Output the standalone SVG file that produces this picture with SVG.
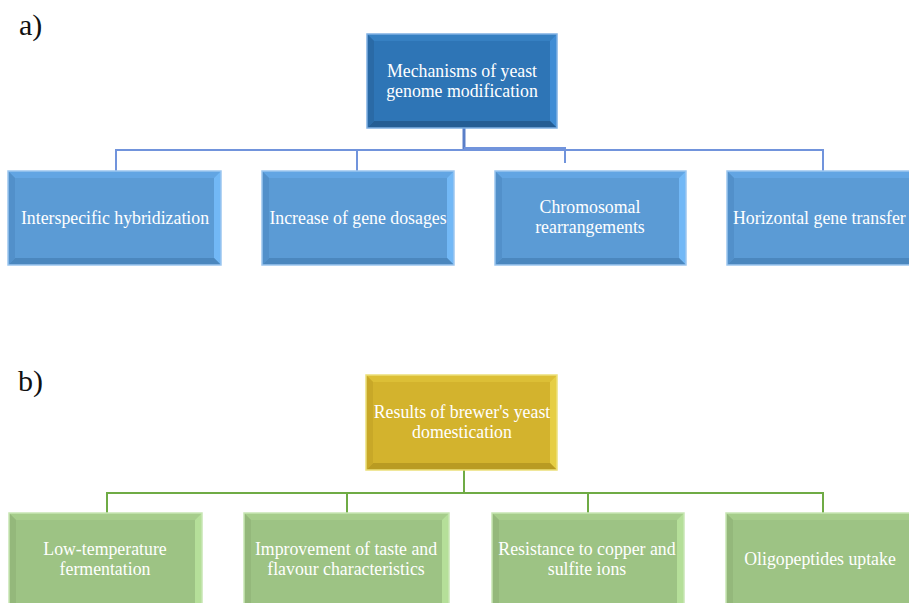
<svg xmlns="http://www.w3.org/2000/svg" width="909" height="603" viewBox="0 0 909 603">
<style>
text{font-family:"Liberation Serif","DejaVu Serif",serif;fill:#ffffff;font-size:17.8px;text-anchor:middle}
.lbl{fill:#111;font-size:30px;text-anchor:start}
.ca{stroke:#7194dc;stroke-width:2;fill:none}
.cad{stroke:#5a7fc8;stroke-width:3;fill:none}
.cb{stroke:#6fab45;stroke-width:2;fill:none}
.bd .f{fill:#2e75b6}.bd .t{fill:#3680c2}.bd .r{fill:#3f8cd4}.bd .l{fill:#2a6aa6}.bd .b{fill:#245d94}.bd .o{fill:none;stroke:#7fb0e3;stroke-width:1.5}
.bm .f{fill:#5b9bd5}.bm .t{fill:#62a5e3}.bm .r{fill:#72b8f6}.bm .l{fill:#5290ca}.bm .b{fill:#4b87be}.bm .o{fill:none;stroke:#9cc6ef;stroke-width:1.5}
.gd .f{fill:#d3b32d}.gd .t{fill:#dcbf36}.gd .r{fill:#e6ce44}.gd .l{fill:#c8a828}.gd .b{fill:#b99b22}.gd .o{fill:none;stroke:#ece07a;stroke-width:1.5}
.gr .f{fill:#9dc384}.gr .t{fill:#a6cd8b}.gr .r{fill:#b5df99}.gr .l{fill:#94b87b}.gr .b{fill:#8aae72}.gr .o{fill:none;stroke:#c8e6b4;stroke-width:1.5}
</style>
<rect width="909" height="603" fill="#ffffff"/>
<text class="lbl" x="19" y="35">a)</text>
<text class="lbl" x="18" y="391">b)</text>

<g id="connectors">
<path class="cad" d="M464 128 V150"/>
<path class="ca" d="M116 171 V150 H823 V171"/>
<path class="ca" d="M357 150 V171"/>
<path class="ca" d="M464 148 H565 V163"/>
<path class="cb" d="M464 470 V493"/>
<path class="cb" d="M107 513 V493 H823 V513"/>
<path class="cb" d="M347 493 V513"/>
<path class="cb" d="M588 493 V513"/>
</g>

<g id="a0" class="bd">
<rect class="f" x="367" y="34" width="190" height="94"/>
<polygon class="t" points="367,34 557,34 550,41 374,41"/>
<polygon class="r" points="557,34 557,128 550,121 550,41"/>
<polygon class="b" points="367,128 557,128 550,121 374,121"/>
<polygon class="l" points="367,34 374,41 374,121 367,128"/>
<rect class="o" x="367" y="34" width="190" height="94"/>
<text x="462" y="77">Mechanisms of yeast</text>
<text x="462" y="97">genome modification</text>
</g>

<g id="a1" class="bm">
<rect class="f" x="8" y="171" width="213" height="94"/>
<polygon class="t" points="8,171 221,171 214,178 15,178"/>
<polygon class="r" points="221,171 221,265 214,258 214,178"/>
<polygon class="b" points="8,265 221,265 214,258 15,258"/>
<polygon class="l" points="8,171 15,178 15,258 8,265"/>
<rect class="o" x="8" y="171" width="213" height="94"/>
<text x="115" y="224">Interspecific hybridization</text>
</g>

<g id="a2" class="bm">
<rect class="f" x="262" y="171" width="192" height="94"/>
<polygon class="t" points="262,171 454,171 447,178 269,178"/>
<polygon class="r" points="454,171 454,265 447,258 447,178"/>
<polygon class="b" points="262,265 454,265 447,258 269,258"/>
<polygon class="l" points="262,171 269,178 269,258 262,265"/>
<rect class="o" x="262" y="171" width="192" height="94"/>
<text x="358" y="224">Increase of gene dosages</text>
</g>

<g id="a3" class="bm">
<rect class="f" x="495" y="171" width="191" height="94"/>
<polygon class="t" points="495,171 686,171 679,178 502,178"/>
<polygon class="r" points="686,171 686,265 679,258 679,178"/>
<polygon class="b" points="495,265 686,265 679,258 502,258"/>
<polygon class="l" points="495,171 502,178 502,258 495,265"/>
<rect class="o" x="495" y="171" width="191" height="94"/>
<text x="590" y="213">Chromosomal</text>
<text x="590" y="233">rearrangements</text>
</g>

<g id="a4" class="bm">
<rect class="f" x="727" y="171" width="195" height="94"/>
<polygon class="t" points="727,171 922,171 915,178 734,178"/>
<polygon class="b" points="727,265 922,265 915,258 734,258"/>
<polygon class="l" points="727,171 734,178 734,258 727,265"/>
<rect class="o" x="727" y="171" width="195" height="94"/>
<text x="733" y="224" style="text-anchor:start">Horizontal gene transfer</text>
</g>

<g id="b0" class="gd">
<rect class="f" x="366" y="375" width="191" height="95"/>
<polygon class="t" points="366,375 557,375 550,382 373,382"/>
<polygon class="r" points="557,375 557,470 550,463 550,382"/>
<polygon class="b" points="366,470 557,470 550,463 373,463"/>
<polygon class="l" points="366,375 373,382 373,463 366,470"/>
<rect class="o" x="366" y="375" width="191" height="95"/>
<text x="462" y="418">Results of brewer's yeast</text>
<text x="462" y="438">domestication</text>
</g>

<g id="b1" class="gr">
<rect class="f" x="9" y="513" width="193" height="97"/>
<polygon class="t" points="9,513 202,513 195,520 16,520"/>
<polygon class="r" points="202,513 202,610 195,603 195,520"/>
<polygon class="b" points="9,610 202,610 195,603 16,603"/>
<polygon class="l" points="9,513 16,520 16,603 9,610"/>
<rect class="o" x="9" y="513" width="193" height="97"/>
<text x="105" y="555">Low-temperature</text>
<text x="105" y="575">fermentation</text>
</g>

<g id="b2" class="gr">
<rect class="f" x="244" y="513" width="205" height="97"/>
<polygon class="t" points="244,513 449,513 442,520 251,520"/>
<polygon class="r" points="449,513 449,610 442,603 442,520"/>
<polygon class="b" points="244,610 449,610 442,603 251,603"/>
<polygon class="l" points="244,513 251,520 251,603 244,610"/>
<rect class="o" x="244" y="513" width="205" height="97"/>
<text x="346" y="555">Improvement of taste and</text>
<text x="346" y="575">flavour characteristics</text>
</g>

<g id="b3" class="gr">
<rect class="f" x="492" y="513" width="192" height="97"/>
<polygon class="t" points="492,513 684,513 677,520 499,520"/>
<polygon class="r" points="684,513 684,610 677,603 677,520"/>
<polygon class="b" points="492,610 684,610 677,603 499,603"/>
<polygon class="l" points="492,513 499,520 499,603 492,610"/>
<rect class="o" x="492" y="513" width="192" height="97"/>
<text x="587" y="555">Resistance to copper and</text>
<text x="587" y="575">sulfite ions</text>
</g>

<g id="b4" class="gr">
<rect class="f" x="726" y="513" width="196" height="97"/>
<polygon class="t" points="726,513 922,513 915,520 733,520"/>
<polygon class="b" points="726,610 922,610 915,603 733,603"/>
<polygon class="l" points="726,513 733,520 733,603 726,610"/>
<rect class="o" x="726" y="513" width="196" height="97"/>
<text x="820" y="565">Oligopeptides uptake</text>
</g>
</svg>
